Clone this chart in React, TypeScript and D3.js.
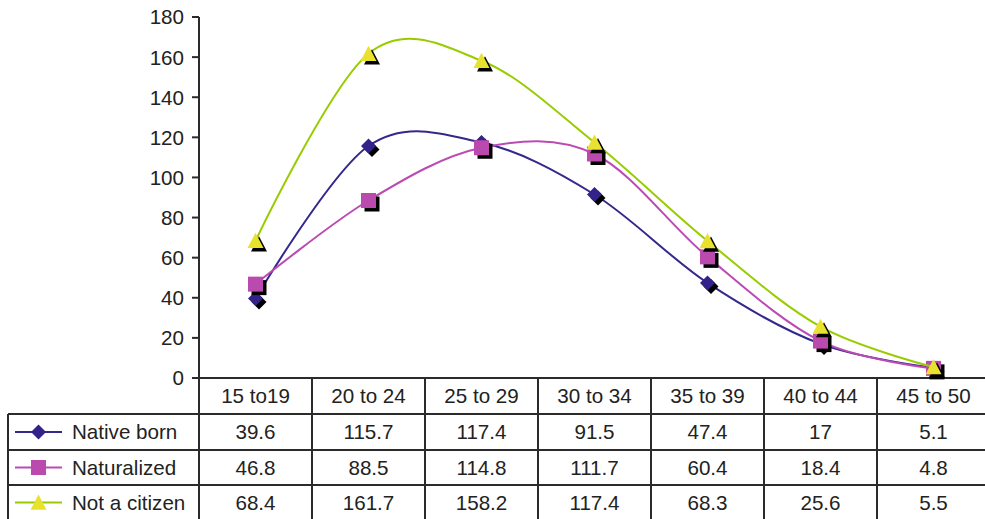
import React from "react";
import * as d3 from "d3";

const categories = ["15 to19", "20 to 24", "25 to 29", "30 to 34", "35 to 39", "40 to 44", "45 to 50"];
const nativeBorn = [39.6, 115.7, 117.4, 91.5, 47.4, 17, 5.1];
const naturalized = [46.8, 88.5, 114.8, 111.7, 60.4, 18.4, 4.8];
const notCitizen = [68.4, 161.7, 158.2, 117.4, 68.3, 25.6, 5.5];
const valueLabels = [
  ["39.6", "115.7", "117.4", "91.5", "47.4", "17", "5.1"],
  ["46.8", "88.5", "114.8", "111.7", "60.4", "18.4", "4.8"],
  ["68.4", "161.7", "158.2", "117.4", "68.3", "25.6", "5.5"],
];
const seriesNames = ["Native born", "Naturalized", "Not a citizen"];
const yTicks = [0, 20, 40, 60, 80, 100, 120, 140, 160, 180];

const W = 985;
const H = 519;
const plotLeft = 199;
const colW = 113;
const yTop = 17;
const yBottom = 378;
const rowEdges = [378, 414, 450, 485, 520];
const tableLeft = 8;
const axisColor = "#2b2b2b";
const font = "Liberation Sans, Arial, sans-serif";
const fontSize = 20.6;

const seriesStyle = [
  { values: nativeBorn, line: "#33288c", fill: "#33228a", marker: "diamond" },
  { values: naturalized, line: "#bb4bb3", fill: "#bb4aae", marker: "square" },
  { values: notCitizen, line: "#99cc00", fill: "#e8e22e", marker: "triangle" },
];

function markerPath(kind: string, cx: number, cy: number): string {
  if (kind === "diamond") {
    const r = 7.5;
    return `M${cx},${cy - r}L${cx + r},${cy}L${cx},${cy + r}L${cx - r},${cy}Z`;
  }
  if (kind === "square") {
    const r = 7.5;
    return `M${cx - r},${cy - r}H${cx + r}V${cy + r}H${cx - r}Z`;
  }
  const w = 8, h = 8;
  return `M${cx},${cy - h}L${cx + w},${cy + h * 0.9}L${cx - w},${cy + h * 0.9}Z`;
}

export default function App() {
  const x = d3
    .scaleBand<string>()
    .domain(categories)
    .range([plotLeft, plotLeft + colW * categories.length]);
  const y = d3.scaleLinear().domain([0, 180]).range([yBottom, yTop]);
  const cx = (c: string) => (x(c) as number) + x.bandwidth() / 2;

  const line = d3
    .line<number>()
    .x((_, i) => cx(categories[i]))
    .y((d) => y(d))
    .curve(d3.curveCatmullRom.alpha(0));

  const rowMid = (r: number) => (rowEdges[r] + rowEdges[r + 1]) / 2;

  return (
    <svg
      width={W}
      height={H}
      style={{ position: "absolute", left: 0, top: 0, background: "#fff" }}
      fontFamily={font}
    >
      <rect x={0} y={0} width={W} height={H} fill="#fff" />

      {/* y axis */}
      <line x1={plotLeft} x2={plotLeft} y1={yTop} y2={H} stroke={axisColor} strokeWidth={2} />
      {yTicks.map((t) => (
        <g key={t}>
          <line x1={plotLeft - 7} x2={plotLeft} y1={y(t)} y2={y(t)} stroke={axisColor} strokeWidth={2} />
          <text x={plotLeft - 15} y={y(t)} dy="0.36em" textAnchor="end" fontSize={fontSize} fill="#222">
            {t}
          </text>
        </g>
      ))}

      {/* data table grid */}
      <line x1={plotLeft - 7} x2={W} y1={rowEdges[0]} y2={rowEdges[0]} stroke={axisColor} strokeWidth={2} />
      {rowEdges.slice(1).map((ry, i) => (
        <line key={i} x1={tableLeft} x2={W} y1={ry} y2={ry} stroke={axisColor} strokeWidth={2} />
      ))}
      <line x1={tableLeft} x2={tableLeft} y1={rowEdges[1]} y2={H} stroke={axisColor} strokeWidth={2} />
      {categories.map((c) => (
        <line
          key={c}
          x1={(x(c) as number) + colW}
          x2={(x(c) as number) + colW}
          y1={rowEdges[0]}
          y2={H}
          stroke={axisColor}
          strokeWidth={2}
        />
      ))}
      {categories.map((c) => (
        <text key={c} x={cx(c)} y={rowMid(0)} dy="0.36em" textAnchor="middle" fontSize={fontSize} fill="#222">
          {c}
        </text>
      ))}
      {valueLabels.map((row, r) =>
        row.map((v, i) => (
          <text
            key={`${r}-${i}`}
            x={cx(categories[i])}
            y={rowMid(r + 1)}
            dy="0.36em"
            textAnchor="middle"
            fontSize={fontSize}
            fill="#222"
          >
            {v}
          </text>
        ))
      )}

      {/* legend keys */}
      {seriesStyle.map((s, r) => (
        <g key={r}>
          <line x1={15} x2={62} y1={rowMid(r + 1)} y2={rowMid(r + 1)} stroke={s.line} strokeWidth={2} />
          <path d={markerPath(s.marker, 38.5, rowMid(r + 1))} fill={s.fill} />
          <text x={72} y={rowMid(r + 1)} dy="0.36em" fontSize={fontSize} fill="#222">
            {seriesNames[r]}
          </text>
        </g>
      ))}

      {/* series */}
      {seriesStyle.map((s, r) => (
        <g key={r}>
          <path d={line(s.values) || ""} fill="none" stroke={s.line} strokeWidth={2} />
          {s.values.map((v, i) => (
            <path key={`s${i}`} d={markerPath(s.marker, cx(categories[i]) + 3.5, y(v) + 3.5)} fill="#000" />
          ))}
          {s.values.map((v, i) => (
            <path key={`m${i}`} d={markerPath(s.marker, cx(categories[i]), y(v))} fill={s.fill} />
          ))}
        </g>
      ))}
    </svg>
  );
}
